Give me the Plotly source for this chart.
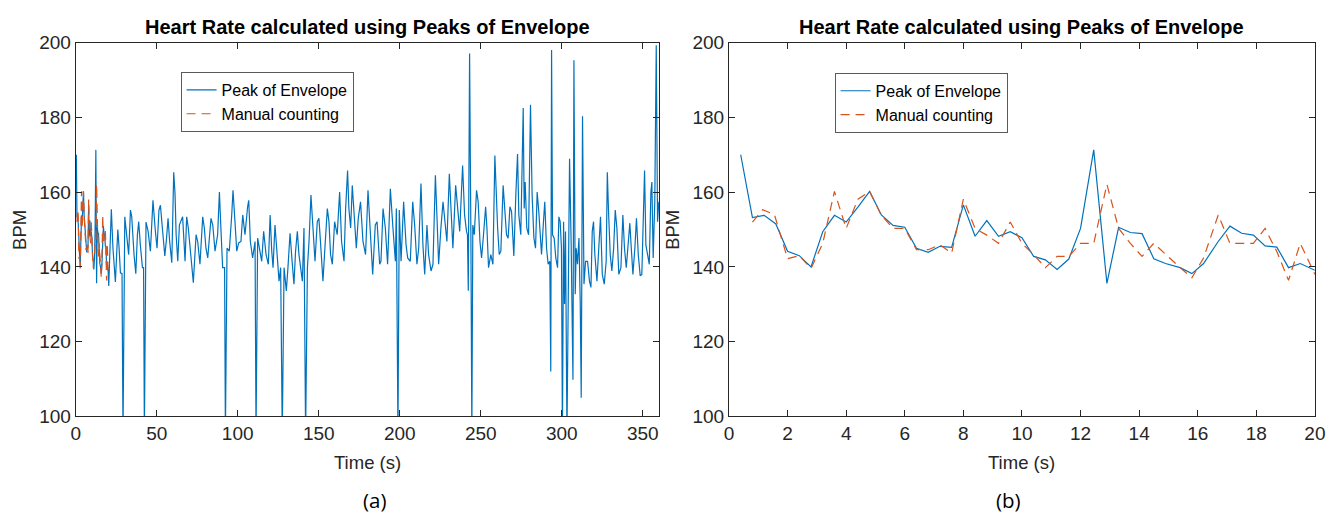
import plotly.graph_objects as go

# ---------------- data ----------------
# first 20 s (shown in both panels) - heart rate from peaks of envelope
zoom_time = [0.4, 0.8, 1.2, 1.6, 2.0, 2.4, 2.8, 3.2, 3.6, 4.0, 4.4, 4.8, 5.2, 5.6, 6.0,
             6.4, 6.8, 7.2, 7.6, 8.0, 8.4, 8.8, 9.2, 9.6, 10.0, 10.4, 10.8, 11.2, 11.6,
             12.0, 12.45, 12.9, 13.3, 13.7, 14.1, 14.5, 14.9, 15.4, 15.8, 16.2, 16.7,
             17.1, 17.5, 17.9, 18.3, 18.7, 19.1, 19.5, 20.0]
zoom_bpm = [170.0, 153.2, 153.8, 151.5, 144.2, 143.0, 140.0, 149.4, 153.8, 152.0, 156.0,
            160.2, 153.9, 151.1, 150.6, 145.0, 143.9, 145.5, 145.2, 156.6, 148.2, 152.4,
            148.2, 149.4, 147.8, 142.8, 141.9, 139.3, 142.1, 150.3, 171.3, 135.6, 150.6,
            149.2, 148.9, 142.2, 140.9, 139.8, 138.2, 140.9, 146.8, 150.9, 149.0, 148.5,
            145.6, 145.3, 139.8, 140.9, 139.1]

# manual counting (first 20 s)
manual_time = [0.8, 1.15, 1.55, 2.0, 2.4, 2.8, 3.2, 3.6, 4.0, 4.4, 4.8, 5.2, 5.6, 6.0,
               6.4, 6.8, 7.2, 7.6, 8.0, 8.4, 8.8, 9.2, 9.6, 10.0, 10.4, 10.8, 11.2, 11.6,
               12.0, 12.45, 12.9, 13.3, 13.7, 14.1, 14.5, 14.9, 15.4, 15.8, 16.2, 16.7,
               17.1, 17.5, 17.9, 18.3, 18.7, 19.1, 19.5, 20.0]
manual_bpm = [152.0, 155.3, 154.0, 142.2, 143.0, 139.6, 146.3, 160.2, 150.3, 158.1, 160.2,
              153.8, 150.3, 150.3, 144.6, 144.6, 145.9, 143.7, 158.1, 150.3, 148.5, 146.3,
              152.0, 146.3, 143.3, 139.8, 142.8, 142.8, 146.3, 146.3, 162.1, 150.3, 146.3,
              142.8, 146.3, 143.3, 139.8, 137.1, 142.4, 153.9, 146.3, 146.3, 146.3, 150.3,
              144.1, 136.4, 146.3, 138.0]

# remainder of the recording (20 s - 360 s), peak of envelope
long_time = [20.4, 22, 23, 24.5, 26, 26.8, 27.6, 28.6, 29.2, 30.3, 31.3, 32.7, 33.8, 34.6,
             36, 37.1, 38.1, 38.9, 39.9, 41.2, 41.9, 42.4, 43.4, 44.7, 46.1, 47.7, 49,
             50.2, 51.4, 52.3, 53.5, 55, 56, 57, 58, 59.3, 60.5, 61.3, 62, 63, 64, 66,
             67.5, 68.5, 69.5, 70.8, 72.6, 74.3, 75.3, 76.7, 78.4, 79.4, 80.4, 81.5, 83.5,
             84.6, 86, 87.6, 88.7, 89.7, 90.7, 91.9, 92.4, 93.4, 94.8, 96.3, 97.1, 98.3,
             99.4, 100.6, 102, 103.1, 104.5, 106.1, 106.8, 107.8, 109.2, 110.7, 111.3,
             112.3, 113.3, 114.8, 116, 117.5, 118.9, 120, 121, 121.8, 123, 123.8, 125.5,
             126.5, 127.5, 128.6, 130, 131, 132.3, 133.7, 134.7, 135.7, 136.8, 137.8,
             138.8, 139.9, 140.9, 141.9, 143, 144, 145.2, 146.4, 147.7, 149.1, 150.1,
             151.2, 152.6, 153.8, 155.3, 156.3, 157.3, 158.4, 159.8, 161.4, 162.9, 164.1,
             165.6, 166.6, 167.8, 168.6, 169.7, 170.7, 172, 173.2, 174.4, 175.8, 177.3,
             178.9, 180.4, 181.9, 183.3, 184.9, 186, 187.6, 188.4, 189.7, 191.1, 192.5,
             194.2, 195.8, 197.3, 197.9, 198.9, 199.7, 200.8, 202.4, 203.9, 204.9, 206.5,
             208, 209.2, 210.6, 211.7, 213.1, 214.3, 215.4, 216.8, 217.8, 219.3, 220.5,
             222, 223, 224, 225.4, 226.7, 227.7, 229.1, 230.6, 231.8, 232.8, 234.5,
             235.7, 237, 238.8, 240, 241.2, 241.8, 242.3, 243.1, 243.9, 244.5, 245.1,
             246, 247.4, 248.4, 249.5, 250.5, 251.7, 253, 253.8, 254.8, 256.2, 257.5,
             258.7, 259.5, 260.4, 261.4, 262.4, 263.8, 264.9, 265.9, 266.9, 268, 269,
             270.4, 271.7, 272.7, 273.5, 274.7, 276.2, 276.8, 277.4, 278.4, 279.5, 280.7,
             281.7, 282.8, 283.8, 284.8, 285.8, 287.5, 288.7, 289.5, 290.6, 291.6, 292.6,
             293.2, 293.7, 294.3, 295.3, 296.3, 297.4, 298.2, 299, 299.8, 300.4, 301.1,
             301.7, 302.3, 303.2, 304, 304.8, 305.8, 306.9, 307.5, 308.3, 308.9, 309.7,
             310.6, 311.4, 312, 312.8, 313.7, 314.7, 315.9, 317.1, 318, 318.8, 319.6,
             320.4, 321.7, 322.9, 323.9, 325, 326.2, 327.4, 328.1, 328.9, 329.9, 330.9,
             332, 333, 334, 335.2, 336.5, 337.7, 338.7, 339.8, 341, 342, 342.9, 343.9,
             345.1, 346.1, 347.2, 348.4, 349.4, 350.3, 351.1, 351.9, 352.9, 354, 355,
             355.6, 356.4, 357.4, 358.3, 359.1, 359.9]
long_bpm = [134.9, 155.4, 145, 136, 150, 145, 138.4, 138.2, 95, 153.4, 148.6, 143.3, 155.2,
            153.4, 143.3, 138.2, 148.6, 152.1, 145.9, 139.8, 139.8, 95, 152, 149.5, 144.2,
            157.8, 150.4, 145, 155.2, 156.5, 150.4, 142.9, 147.3, 153, 146.8, 141.1, 165.3,
            159.6, 148.6, 141.5, 151.2, 153.4, 141.5, 153.4, 150.4, 144.2, 135.8, 148.6,
            146.8, 140.7, 153.4, 150.4, 145, 142.4, 153, 151.2, 144.2, 148.6, 160, 149.5,
            139.8, 139.8, 95, 145, 144.2, 153.9, 160.5, 152.1, 144.2, 146.4, 146.8, 153.9,
            148.6, 156.1, 157.8, 146.8, 142.4, 146.8, 95, 147.7, 145, 141.5, 149.5, 143.3,
            140.7, 153.9, 144.2, 139.8, 151.2, 146.8, 136.2, 139.8, 95, 139.8, 133.6,
            139.8, 149, 140.7, 135.4, 144.2, 149.5, 143.3, 139.8, 136.2, 150.4, 95, 139.8,
            146.8, 159.2, 151.2, 141.5, 152.1, 153, 145.9, 136.2, 145, 155.6, 152.1, 143.3,
            140.7, 152.1, 148.6, 160, 146.8, 141.5, 155.6, 165.8, 155.6, 150.4, 161.8,
            152.1, 145, 153, 157.4, 146.8, 143.3, 160.5, 148.6, 138, 151.2, 152.1, 140.7,
            141.5, 155.6, 150.4, 140.7, 160.9, 150.4, 141.5, 155.6, 95, 155.2, 141.5,
            157.4, 145.9, 142.4, 141.5, 157.4, 151.2, 140.7, 145, 162.3, 145.9, 138,
            151.2, 143.3, 138.9, 140.7, 164.5, 153, 140.7, 150.4, 157.4, 153, 146.8,
            164.9, 153.9, 145, 161.8, 155.6, 149.5, 167.1, 153.9, 149.5, 148.6, 133.6,
            197.1, 148.6, 95, 151.2, 148.6, 160.5, 157.4, 146.8, 142.4, 148.6, 156.1,
            150.4, 139.8, 143.3, 140.7, 169.8, 157.4, 150.4, 143.3, 144.2, 161.8, 153.9,
            148.6, 147.7, 156.1, 154.8, 142.9, 160, 170.2, 153.9, 148.6, 182.5, 155.6,
            162.7, 150.4, 148.6, 183.4, 159.2, 147.7, 145, 160, 154.8, 143.3, 152.1,
            157.4, 145, 140.7, 141.5, 112, 198, 148.6, 147.7, 142.4, 139.8, 153.4, 152.1,
            145, 95, 152.1, 130.1, 149.5, 95, 143.3, 168.9, 145.9, 109.8, 195.3, 132.7,
            145, 140.7, 147.7, 130.1, 105, 180.3, 135.4, 141.5, 141.5, 136.2, 134.5,
            149.5, 152.1, 143.3, 136.2, 146.8, 153.4, 138, 135.4, 141.5, 165.3, 154.3,
            143.3, 138.9, 145, 155.2, 150.4, 138, 139.8, 153.9, 145, 139.8, 146.8, 151.7,
            145, 138, 145, 153, 143.3, 137.6, 138, 151.7, 165.8, 145.9, 143.3, 140.7, 160,
            162.7, 142.4, 157.4, 199.3, 152.1, 157.4]

x_ticks_a = [0, 50, 100, 150, 200, 250, 300, 350]
x_ticks_b = [0, 2, 4, 6, 8, 10, 12, 14, 16, 18, 20]
y_ticks = [100, 120, 140, 160, 180, 200]

# ---------------- styling ----------------
W, H = 1329, 518
BLUE = "#0072BD"
ORANGE = "#D95319"
AX = "#262626"
FONT = "Liberation Sans"

# page is captured with an 8px body margin and rescaled to W x H;
# convert target picture pixels into figure pixels
SX = W / (W + 16)
SY = H / (H + 16)


def px_x(p):
    return (p / SX - 8) / W


def px_y(p):
    return 1 - (p / SY - 8) / H


fig = go.Figure()

fig.add_trace(go.Scatter(x=zoom_time + long_time, y=zoom_bpm + long_bpm, mode="lines",
                         name="Peak of Envelope", line=dict(color=BLUE, width=1.2),
                         xaxis="x", yaxis="y", legend="legend"))
fig.add_trace(go.Scatter(x=manual_time, y=manual_bpm, mode="lines", name="Manual counting",
                         line=dict(color=ORANGE, width=1.2, dash="9px,6px"),
                         xaxis="x", yaxis="y", legend="legend"))
fig.add_trace(go.Scatter(x=zoom_time, y=zoom_bpm, mode="lines", name="Peak of Envelope",
                         line=dict(color=BLUE, width=1.2),
                         xaxis="x2", yaxis="y2", legend="legend2"))
fig.add_trace(go.Scatter(x=manual_time, y=manual_bpm, mode="lines", name="Manual counting",
                         line=dict(color=ORANGE, width=1.2, dash="9px,6px"),
                         xaxis="x2", yaxis="y2", legend="legend2"))

axis_common = dict(showgrid=False, zeroline=False, showline=True, linecolor=AX, linewidth=1,
                   mirror="ticks", ticks="inside", ticklen=6, tickcolor=AX, tickwidth=1,
                   ticklabeloverflow="allow",
                   tickfont=dict(family=FONT, size=19, color=AX))

ydom = [px_y(418.7), px_y(40.7)]
legend_common = dict(xanchor="left", yanchor="top", bgcolor="white",
                     bordercolor="#5a5a5a", borderwidth=1, tracegroupgap=0,
                     font=dict(family=FONT, size=16, color="black"))
fig.update_layout(
    width=W, height=H, autosize=False,
    margin=dict(l=0, r=0, t=0, b=0),
    paper_bgcolor="white", plot_bgcolor="white",
    font=dict(family=FONT, color=AX),
    xaxis=dict(domain=[px_x(78.6), px_x(662)], range=[0, 360], tickvals=x_ticks_a,
               anchor="y", **axis_common),
    yaxis=dict(domain=ydom, range=[100, 200], tickvals=y_ticks, anchor="x", **axis_common),
    xaxis2=dict(domain=[px_x(732), min(px_x(1318), 1.0)], range=[0, 20], tickvals=x_ticks_b,
                anchor="y2", **axis_common),
    yaxis2=dict(domain=ydom, range=[100, 200], tickvals=y_ticks, anchor="x2", **axis_common),
    legend=dict(x=px_x(183.5), y=px_y(70.5), **legend_common),
    legend2=dict(x=px_x(837.6), y=px_y(71.3), **legend_common),
    showlegend=True,
)

title_text = "<b>Heart Rate calculated using Peaks of Envelope</b>"
annots = [
    dict(x=px_x(370), y=px_y(25), text=title_text, font=dict(size=20, color="black")),
    dict(x=px_x(1025), y=px_y(25), text=title_text, font=dict(size=20, color="black")),
    dict(x=px_x(370), y=px_y(465), text="Time (s)", font=dict(size=18.5, color=AX)),
    dict(x=px_x(1025), y=px_y(465), text="Time (s)", font=dict(size=18.5, color=AX)),
    dict(x=px_x(23), y=px_y(230), text="BPM", textangle=-90, font=dict(size=18.5, color=AX)),
    dict(x=px_x(676), y=px_y(230), text="BPM", textangle=-90, font=dict(size=18.5, color=AX)),
    dict(x=px_x(377), y=px_y(503), text="(a)", font=dict(family="Open Sans", size=20.5, color="black")),
    dict(x=px_x(1012), y=px_y(503), text="(b)", font=dict(family="Open Sans", size=20.5, color="black")),
]
for a in annots:
    a.update(xref="paper", yref="paper", showarrow=False, xanchor="center", yanchor="middle")
    a["font"].setdefault("family", FONT)
fig.update_layout(annotations=annots)

fig.write_html("out.html")
